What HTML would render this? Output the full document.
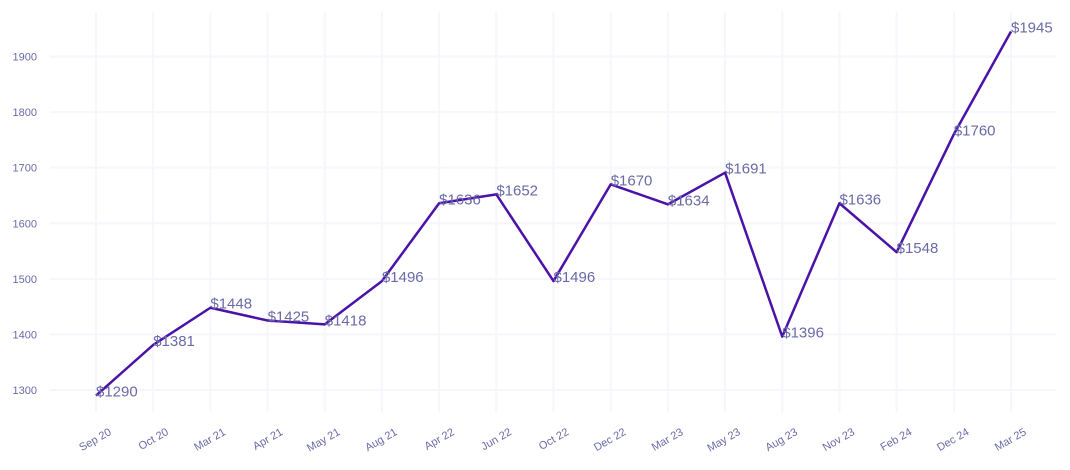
<!DOCTYPE html>
<html><head><meta charset="utf-8"><style>
body{margin:0;background:#fff;font-family:"Liberation Sans",sans-serif}
svg text{font-family:"Liberation Sans",sans-serif}
</style></head><body>
<svg id="c" width="1070" height="465"></svg>
<script>
const categories=["Sep 20","Oct 20","Mar 21","Apr 21","May 21","Aug 21","Apr 22","Jun 22","Oct 22","Dec 22","Mar 23","May 23","Aug 23","Nov 23","Feb 24","Dec 24","Mar 25"];
const values=[1290,1381,1448,1425,1418,1496,1636,1652,1496,1670,1634,1691,1396,1636,1548,1760,1945];
const yTicks=[1300,1400,1500,1600,1700,1800,1900];
const NS="http://www.w3.org/2000/svg";
const svg=document.getElementById('c');
const x0=96,dx=(1011-96)/16;
function xs(i){return x0+i*dx;}
function ys(v){return 390-(v-1300)*0.5558;}
function mk(t,a){const e=document.createElementNS(NS,t);for(const k in a)e.setAttribute(k,a[k]);svg.appendChild(e);return e;}
yTicks.forEach(v=>{
const g=mk('line',{x1:50,x2:1056,y1:ys(v),y2:ys(v),stroke:'#f6f6fc','stroke-width':2});


const t=mk('text',{x:37,y:ys(v)+4,'text-anchor':'end','font-size':11,fill:'#6a6aa8'});
t.textContent=v;


});
categories.forEach((c,i)=>{
const g=mk('line',{x1:xs(i),x2:xs(i),y1:12,y2:412,stroke:'#f6f6fc','stroke-width':2});


const t=mk('text',{x:xs(i)+16,y:434,'text-anchor':'end','font-size':11,fill:'#6a6aa8',transform:`rotate(-30 ${xs(i)+16} 434)`});
t.textContent=c;


});
const p=mk('polyline',{points:values.map((v,i)=>xs(i)+','+ys(v)).join(' '),fill:'none',stroke:'#4b12a8','stroke-width':2.5,'stroke-linejoin':'round'});


values.forEach((v,i)=>{
const t=mk('text',{x:xs(i),y:ys(v)+1,'font-size':15,fill:'#6a6aa8'});
t.textContent='$'+v;


});
</script>
</body></html>
